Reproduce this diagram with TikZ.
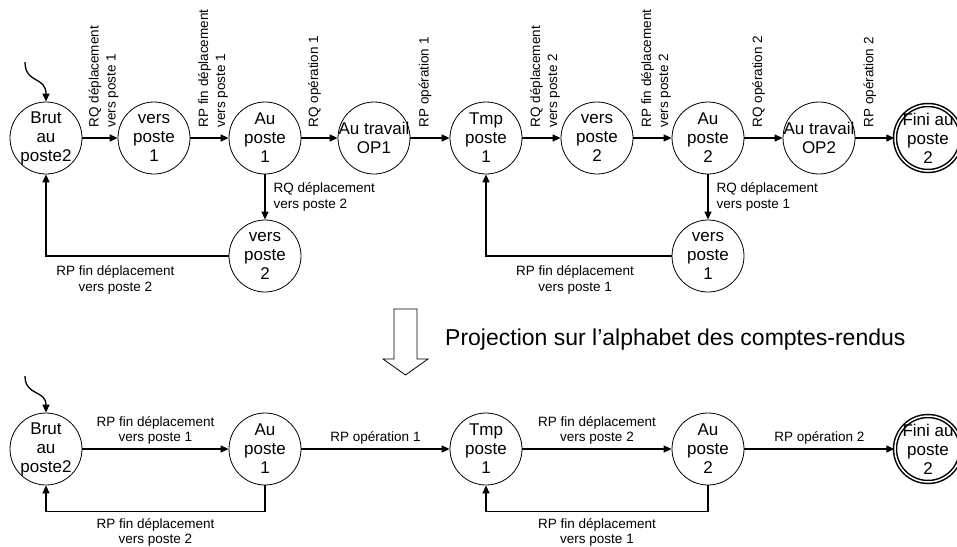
\documentclass[tikz,border=0pt]{standalone}
\usepackage{fontspec}
\setmainfont{Liberation Sans}
\usetikzlibrary{arrows.meta}

\begin{document}
\begin{tikzpicture}[x=1pt,y=-1pt,
  etat/.style={circle,draw,line width=0.8pt,minimum size=72pt,inner sep=-6pt,
    align=center,font=\fontsize{17}{19}\selectfont},
  fin/.style={etat,minimum size=66pt,double,line width=1.5pt,double distance=1.5pt},
  fleche/.style={line width=1.3pt,-{Triangle[length=8pt,width=7pt]}},
  txt/.style={inner sep=0pt,align=center,font=\fontsize{13.5}{15.5}\selectfont},
  vtxt/.style={txt,align=left,font=\fontsize{13.5}{17}\selectfont,
    xshift=-12pt,yshift=10pt,rotate=90,anchor=north west}]
\useasboundingbox (0,0) rectangle (957,546);
% automate complet
\foreach \nom/\x/\txt in {brut/46/{Brut\\au\\poste2}, vers1/154/{vers\\poste\\1},
    poste1/265/{Au\\poste\\1}, op1/374/{Au travail\\OP1}, tmp1/486/{Tmp\\poste\\1},
    vers2/597/{vers\\poste\\2}, poste2/708/{Au\\poste\\2}, op2/819/{Au travail\\OP2}}{
  \node[etat] (\nom) at (\x,138) {\txt};
}
\node[fin] (fini) at (928,138) {Fini au\\poste\\2};
\node[etat] (dep2) at (265,256) {vers\\poste\\2};
\node[etat] (dep1) at (708,256) {vers\\poste\\1};
\coordinate (ini) at (25,62);
\draw[fleche] (ini) .. controls (25,84) and (46,76) .. (brut.north);
\draw[fleche] (brut) -- node[vtxt]{RQ déplacement\\vers poste 1} (vers1);
\draw[fleche] (vers1) -- node[vtxt]{RP fin déplacement\\vers poste 1} (poste1);
\draw[fleche] (poste1) -- node[vtxt]{RQ opération 1} (op1);
\draw[fleche] (op1) -- node[vtxt]{RP opération 1} (tmp1);
\draw[fleche] (tmp1) -- node[vtxt]{RQ déplacement\\vers poste 2} (vers2);
\draw[fleche] (vers2) -- node[vtxt]{RP fin déplacement\\vers poste 2} (poste2);
\draw[fleche] (poste2) -- node[vtxt]{RQ opération 2} (op2);
\draw[fleche] (op2) -- node[vtxt]{RP opération 2} (fini);
% retours
\draw[fleche] (poste1) -- node[txt,align=left,right=8pt]{RQ déplacement\\vers poste 2} (dep2);
\draw[fleche] (dep2) -| node[txt,pos=0.31,below=9pt]{RP fin déplacement\\vers poste 2} (brut);
\draw[fleche] (poste2) -- node[txt,align=left,right=8pt]{RQ déplacement\\vers poste 1} (dep1);
\draw[fleche] (dep1) -| node[txt,pos=0.26,below=9pt]{RP fin déplacement\\vers poste 1} (tmp1);

% projection
\draw[line width=0.8pt] (394,309) -- (417,309) -- (417,359) -- (428,359) -- (405.5,375)
  -- (383,359) -- (394,359) -- cycle;
\node[inner sep=0pt,anchor=base west,font=\fontsize{23}{27}\selectfont] (proj) at (445,345)
  {Projection sur l’alphabet des comptes-rendus};

% automate projete
\foreach \nom/\x/\txt in {pbrut/46/{Brut\\au\\poste2}, ppo1/265/{Au\\poste\\1},
    ptmp/486/{Tmp\\poste\\1}, ppo2/708/{Au\\poste\\2}}{
  \node[etat] (\nom) at (\x,449) {\txt};
}
\node[fin] (pfini) at (928,449) {Fini au\\poste\\2};
\coordinate (pini) at (25,376);
\draw[fleche] (pini) .. controls (25,396) and (46,390) .. (pbrut.north);
\draw[fleche] (pbrut) -- node[txt,above=4pt]{RP fin déplacement\\vers poste 1} (ppo1);
\draw[fleche] (ppo1) -- node[txt,above=4pt]{RP opération 1} (ptmp);
\draw[fleche] (ptmp) -- node[txt,above=4pt]{RP fin déplacement\\vers poste 2} (ppo2);
\draw[fleche] (ppo2) -- node[txt,above=4pt]{RP opération 2} (pfini);
\draw[fleche] (ppo1.south) -- ++(0,26) -| node[txt,pos=0.25,below=6pt]{RP fin déplacement\\vers poste 2} (pbrut.south);
\draw[fleche] (ppo2.south) -- ++(0,26) -| node[txt,pos=0.25,below=6pt]{RP fin déplacement\\vers poste 1} (ptmp.south);
\end{tikzpicture}
\end{document}
